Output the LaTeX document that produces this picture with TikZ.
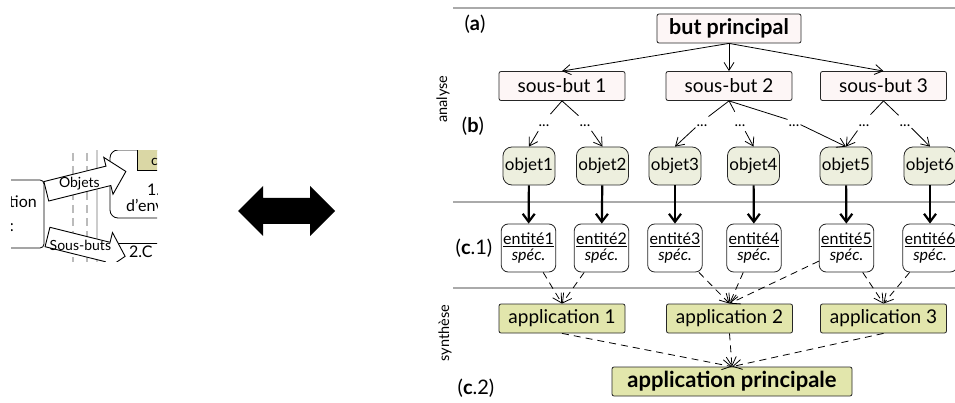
\documentclass[tikz,border=0pt]{standalone}
\usepackage{fontspec}
\setmainfont{Lato}
\usetikzlibrary{arrows.meta}
\definecolor{pinkfill}{RGB}{253,246,246}
\definecolor{objfill}{RGB}{237,239,222}
\definecolor{appfill}{RGB}{226,230,172}
\definecolor{khaki}{RGB}{218,215,165}
\definecolor{sepgray}{RGB}{170,170,170}
\begin{document}
\begin{tikzpicture}[x=1pt,y=-1pt,
  box/.style={draw=black!85, line width=0.8pt, inner sep=0pt, minimum height=29pt, rounded corners=2pt},
  goal/.style={box, fill=pinkfill, minimum width=126pt, font=\fontsize{19}{22}\selectfont},
  appbox/.style={box, fill=appfill, minimum width=126pt, font=\fontsize{19}{22}\selectfont},
  objbox/.style={draw=black!85, line width=0.8pt, fill=objfill, rounded corners=9pt, minimum height=38pt, inner xsep=2pt, inner ysep=0pt, font=\fontsize{17}{20}\selectfont},
  entbox/.style={draw=black!85, line width=0.8pt, fill=white, rounded corners=7pt, minimum height=48pt, inner xsep=2pt, inner ysep=0pt, align=center, font=\fontsize{16}{16}\selectfont},
  dotsnode/.style={anchor=base, inner sep=1pt, text height=14pt, text depth=3pt, font=\fontsize{15}{15}\selectfont},
  lbl/.style={font=\fontsize{20}{22}\selectfont, inner sep=0pt},
  vlbl/.style={font=\fontsize{14.5}{16}\selectfont, rotate=90, inner sep=0pt},
  thinarr/.style={line width=0.8pt, -{Straight Barb[length=8pt,width=10pt]}},
  thickarr/.style={line width=2.2pt, -{Straight Barb[length=8pt,width=12pt]}},
  dasharr/.style={line width=0.8pt, dash pattern=on 7pt off 5pt, -{Straight Barb[length=9pt,width=10pt]}},
  sepline/.style={draw=sepgray, line width=1.5pt},
  lf/.style={font=\fontsize{16}{19}\selectfont, inner sep=0pt},
  arrtxt/.style={font=\fontsize{14}{15}\selectfont, inner sep=0pt},
  blockarr/.style={draw=black, line width=0.9pt, fill=white, line join=miter}
]
\useasboundingbox (0,0) rectangle (955,403);

% ---------- left cropped excerpt ----------
\begin{scope}
\clip (11,151) rectangle (157,262);
\draw[sepgray!80, line width=1.2pt, dash pattern=on 8pt off 5pt] (73,140) -- (73,270);
\draw[sepgray!80, line width=1.2pt, dash pattern=on 8pt off 5pt] (87,140) -- (87,270);
\draw[sepgray!60, line width=1.2pt] (97,140) -- (97,270);
\draw[line width=0.8pt, rounded corners=4pt] (-20,180) -- (44,180) -- (44,248) -- (-20,248);
\node[lf, anchor=base east] (tion) at (37,208) {tion};
\node[lf, anchor=base east] (colon) at (14,232) {:};
\draw[line width=0.8pt, rounded corners=8pt] (180,150) -- (110,150) -- (110,218) -- (180,218);
\draw[line width=0.8pt, fill=khaki] (137,130) rectangle (180,170);
\node[font=\fontsize{14}{16}\selectfont, inner sep=0pt, anchor=base west] (cc) at (151,166) {c};
\node[lf, anchor=base west] (one) at (147,196) {1.};
\node[lf, anchor=base west] (denv) at (126,212) {d'env};
\draw[line width=0.8pt] (116,243) -- (180,243);
\node[lf, anchor=base west] (twoc) at (129,258) {2.C};
\begin{scope}[shift={(46.3,191.3)}, rotate=14]
  \draw[blockarr] (0,-10) -- (64,-10) -- (64,-19) -- (82,0) -- (64,19) -- (64,10) -- (0,10) -- cycle;
  \node[arrtxt] (objets) at (34,0.5) {Objets};
\end{scope}
\begin{scope}[shift={(47.5,237)}, rotate=-14]
  \draw[blockarr] (0,-10) -- (62,-10) -- (62,-20) -- (80,0) -- (62,20) -- (62,10) -- (0,10) -- cycle;
  \node[arrtxt] (sousbuts) at (34,0.5) {Sous-buts};
\end{scope}
\end{scope}

% ---------- big double arrow ----------
\fill[black] (238,211) -- (263,186) -- (263,198) -- (310,198) -- (310,186) -- (335,211)
  -- (310,236) -- (310,224) -- (263,224) -- (263,236) -- cycle;

% ---------- separators ----------
\draw[sepline] (453,8) -- (955,8);
\draw[sepline] (453,202) -- (955,202);
\draw[sepline] (453,288) -- (955,288);

% ---------- labels ----------
\node[lbl] (la) at (475,24) {(\textbf{a})};
\node[lbl] (lb) at (473,126) {(\textbf{b})};
\node[lbl] (lc1) at (474,248) {(\textbf{c}.1)};
\node[lbl] (lc2) at (476,388) {(\textbf{c}.2)};
\node[vlbl] (analyse) at (443,99) {analyse};
\node[vlbl] (synthese) at (445,333) {synthèse};

% ---------- goals ----------
\node[goal, minimum width=144pt, font=\fontsize{21.5}{24}\selectfont\bfseries] (bp) at (729,28.5) {but principal};
\node[goal] (sb1) at (562,86) {sous-but 1};
\node[goal] (sb2) at (729,86) {sous-but 2};
\node[goal] (sb3) at (883.5,86) {sous-but 3};

% ---------- dots ----------
\node[dotsnode] (d11) at (544,127) {...};
\node[dotsnode] (d12) at (585,127) {...};
\node[dotsnode] (d21) at (702,127) {...};
\node[dotsnode] (d22) at (740,127) {...};
\node[dotsnode] (d23) at (794,127) {...};
\node[dotsnode] (d31) at (864,127) {...};
\node[dotsnode] (d32) at (905,127) {...};

% ---------- objects ----------
\node[objbox] (o1) at (529,166) {objet1};
\node[objbox] (o2) at (602.5,166) {objet2};
\node[objbox] (o3) at (675,166) {objet3};
\node[objbox] (o4) at (753.5,166) {objet4};
\node[objbox] (o5) at (846,166) {objet5};
\node[objbox] (o6) at (930,166) {objet6};

% ---------- entities ----------
\node[entbox] (e1) at (528.5,248) {\underline{entité1}\\\textit{spéc.}};
\node[entbox] (e2) at (601.5,248) {\underline{entité2}\\\textit{spéc.}};
\node[entbox] (e3) at (675,248) {\underline{entité3}\\\textit{spéc.}};
\node[entbox] (e4) at (754,248) {\underline{entité4}\\\textit{spéc.}};
\node[entbox] (e5) at (846.5,248) {\underline{entité5}\\\textit{spéc.}};
\node[entbox] (e6) at (930,248) {\underline{entité6}\\\textit{spéc.}};

% ---------- applications ----------
\node[appbox] (a1) at (562,318.5) {application 1};
\node[appbox] (a2) at (729.5,318.5) {application 2};
\node[appbox] (a3) at (883.5,318.5) {application 3};
\node[appbox, minimum width=240pt, font=\fontsize{22}{24}\selectfont\bfseries] (am) at (732,381.5) {application principale};

% ---------- connectors ----------
\draw[thinarr] (bp.south) -- (sb1.north);
\draw[thinarr] (bp.south) -- (sb2.north);
\draw[thinarr] (bp.south) -- (sb3.north);

\draw[thinarr] (sb1.south) -- (d11) -- (o1.north);
\draw[thinarr] (sb1.south) -- (d12) -- (o2.north);
\draw[thinarr] (sb2.south) -- (d21) -- (o3.north);
\draw[thinarr] (sb2.south) -- (d22) -- (o4.north);
\draw[thinarr] (sb2.south) -- (d23) -- (o5.north);
\draw[thinarr] (sb3.south) -- (d31) -- (o5.north);
\draw[thinarr] (sb3.south) -- (d32) -- (o6.north);

\foreach \i in {1,...,6} { \draw[thickarr] (o\i) -- (e\i); }

\draw[dasharr] (e1) -- (a1.north);
\draw[dasharr] (e2) -- (a1.north);
\draw[dasharr] (e3) -- (a2.north);
\draw[dasharr] (e4) -- (a2.north);
\draw[dasharr] (e5) -- (a2.north);
\draw[dasharr] (e5) -- (a3.north);
\draw[dasharr] (e6) -- (a3.north);

\draw[dasharr] (a1.south) -- (am.north);
\draw[dasharr] (a2.south) -- (am.north);
\draw[dasharr] (a3.south) -- (am.north);
\end{tikzpicture}
\end{document}
